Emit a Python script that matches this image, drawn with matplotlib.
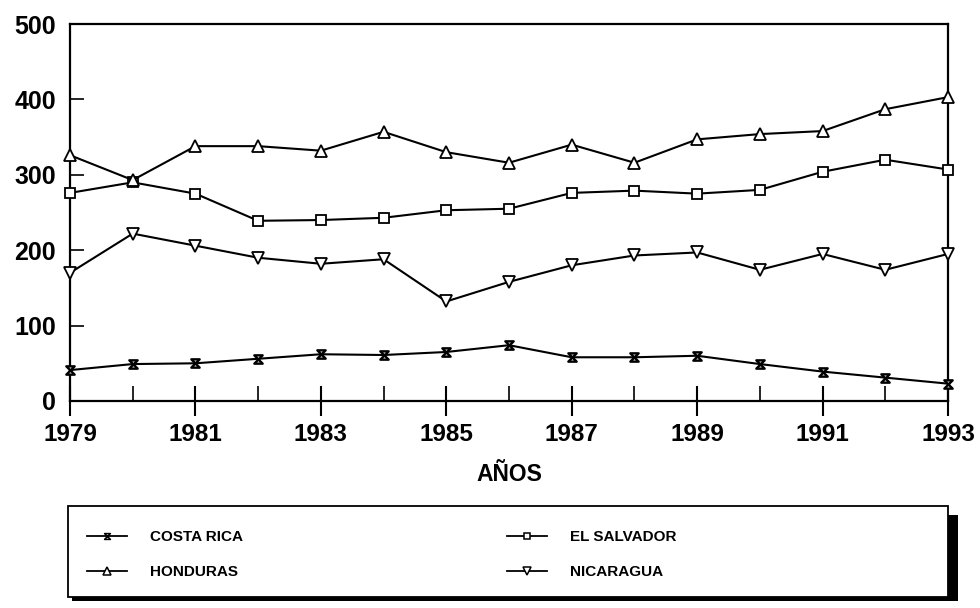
import matplotlib
matplotlib.use("Agg")
import matplotlib.pyplot as plt
from matplotlib.path import Path
from matplotlib.patches import Rectangle
from matplotlib.lines import Line2D

plt.rcParams['font.family'] = ['Liberation Sans', 'DejaVu Sans']
plt.rcParams['font.weight'] = 'bold'

years = list(range(1979, 1994))
costa_rica = [41, 49, 50, 56, 62, 61, 65, 74, 58, 58, 60, 49, 39, 31, 23]
el_salvador = [276, 290, 275, 239, 240, 243, 253, 255, 276, 279, 275, 280, 304, 320, 307]
honduras = [326, 293, 338, 338, 332, 357, 330, 316, 340, 316, 347, 354, 358, 387, 403]
nicaragua = [170, 222, 206, 190, 182, 188, 132, 158, 180, 193, 197, 174, 195, 174, 195]
series_names = ["COSTA RICA", "EL SALVADOR", "HONDURAS", "NICARAGUA"]
major_years = list(range(1979, 1994, 2))
y_ticks = [0, 100, 200, 300, 400, 500]
x_label = "AÑOS"

hourglass = Path([(-1, 1), (1, 1), (-1, -1), (1, -1), (-1, 1)],
                 [Path.MOVETO, Path.LINETO, Path.LINETO, Path.LINETO, Path.CLOSEPOLY])

W, H = 980, 608
fig = plt.figure(figsize=(W / 100, H / 100), dpi=100)
ax = fig.add_axes([70 / W, 1 - 401 / H, (948 - 70) / W, (401 - 24) / H])

styles = [
    (costa_rica, hourglass, 6.0, 1.7),
    (el_salvador, 's', 6.5, 1.3),
    (honduras, '^', 8.0, 1.3),
    (nicaragua, 'v', 8.0, 1.3),
]
handles = []
for (vals, mk, ms, mew), name in zip(styles, series_names):
    ax.plot(years, vals, color='black', lw=1.5, marker=mk, ms=ms,
            mfc='white', mec='black', mew=mew, clip_on=False, zorder=3)
    handles.append(Line2D([], [], color='black', lw=1.3, marker=mk, ms=ms * 0.7,
                          mfc='white', mec='black', mew=1.1))

ax.set_xlim(1979, 1993)
ax.set_ylim(0, 500)
ax.set_xticks(major_years)
ax.set_xticks(years, minor=True)
ax.set_xticklabels([str(y) for y in major_years])
ax.set_yticks(y_ticks)
ax.tick_params(axis='x', which='major', direction='inout', length=22, width=1.5,
               labelsize=17.5, pad=5, top=False)
ax.tick_params(axis='x', which='minor', direction='in', length=11, width=1.2, top=False)
ax.tick_params(axis='y', which='major', direction='in', length=10, width=1.2,
               labelsize=18, pad=10, right=False)
for lab in ax.get_xticklabels() + ax.get_yticklabels():
    lab.set_fontweight('bold')
for sp in ax.spines.values():
    sp.set_linewidth(1.6)
ax.set_xlabel(x_label, fontsize=16.5, fontweight='bold', labelpad=12)

# legend box with shadow
fig.patches.append(Rectangle((72 / W, 1 - 601 / H), (958 - 72) / W, (601 - 515) / H,
                             transform=fig.transFigure, facecolor='black',
                             edgecolor='none', zorder=0))
fig.patches.append(Rectangle((68 / W, 1 - 597 / H), (948 - 68) / W, (597 - 506) / H,
                             transform=fig.transFigure, facecolor='white',
                             edgecolor='black', lw=1.3, zorder=1))

leg_kw = dict(frameon=False, loc='upper left', handlelength=2.6,
              handletextpad=1.5, labelspacing=1.4, borderpad=0, borderaxespad=0,
              prop={'weight': 'bold', 'size': 11})
l1 = fig.legend([handles[0], handles[2]], [series_names[0], series_names[2]],
                bbox_to_anchor=(87 / W, 1 - 530 / H), **leg_kw)
l2 = fig.legend([handles[1], handles[3]], [series_names[1], series_names[3]],
                bbox_to_anchor=(507 / W, 1 - 530 / H), **leg_kw)
for l in (l1, l2):
    l.set_zorder(5)

fig.savefig("out.png", dpi=100)
